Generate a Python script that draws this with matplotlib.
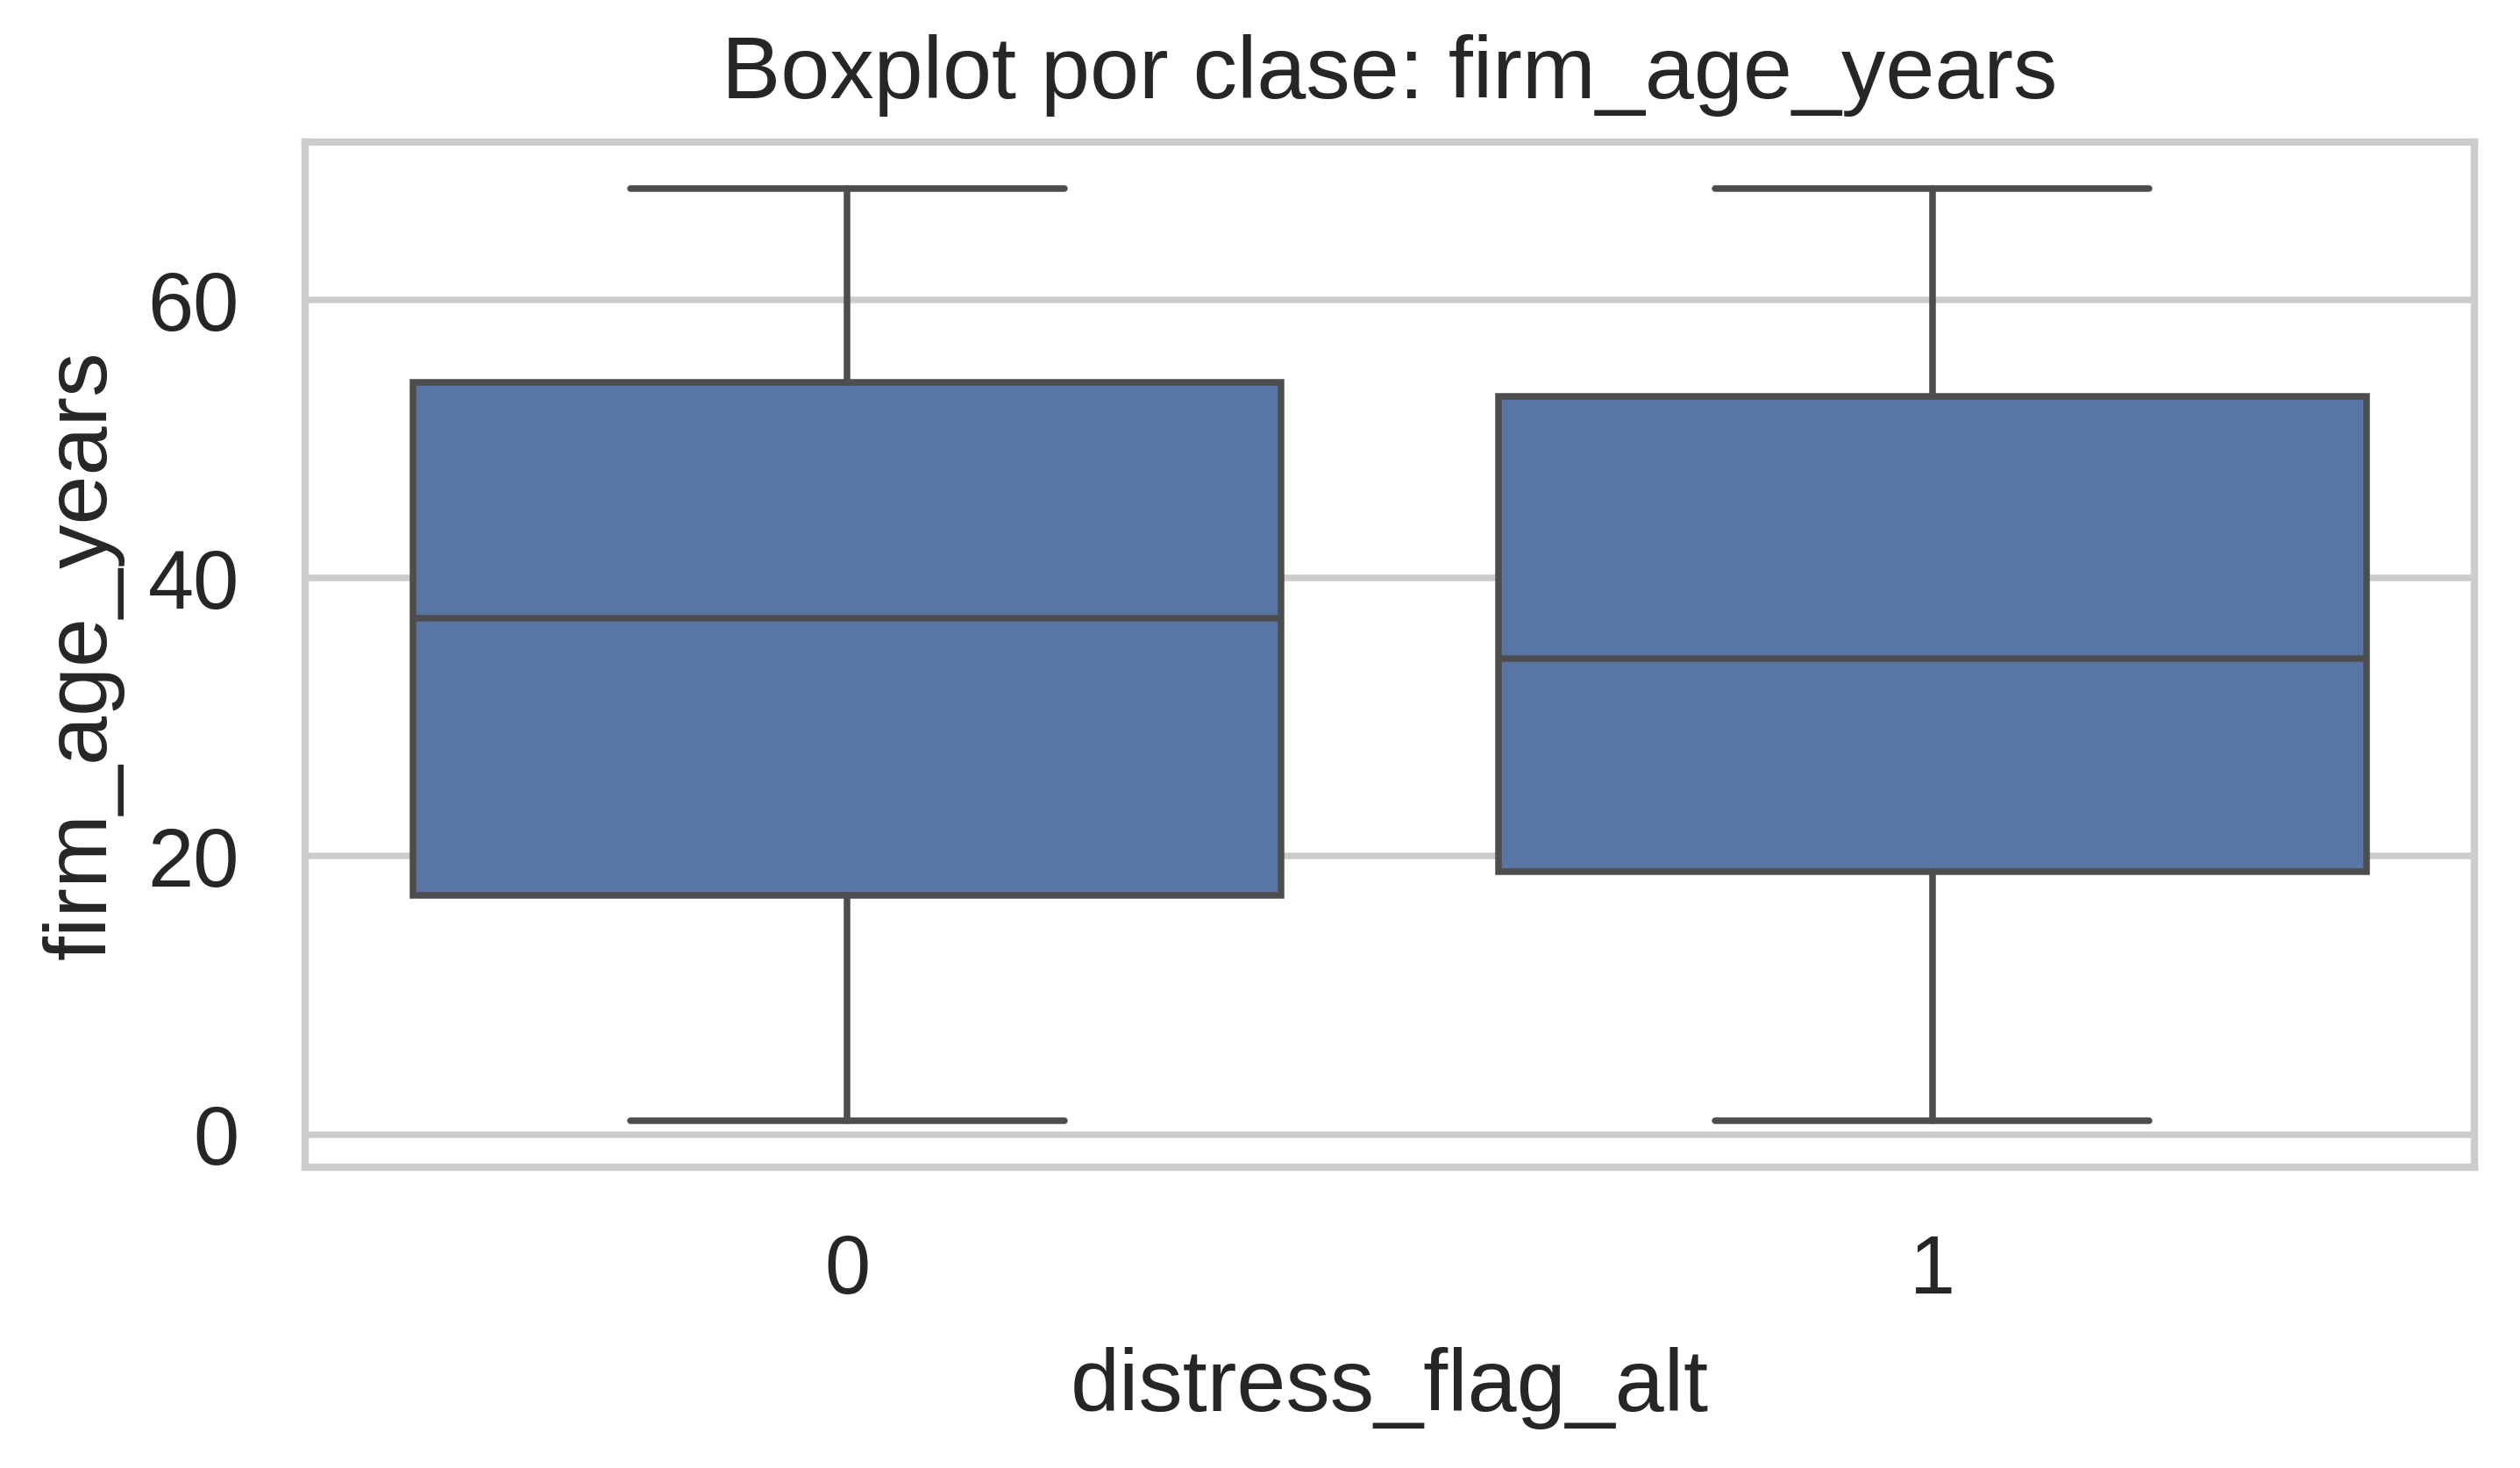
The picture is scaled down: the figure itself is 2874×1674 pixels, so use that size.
import matplotlib
matplotlib.use("Agg")
import matplotlib.pyplot as plt
import seaborn as sns

# box statistics per class
classes = ["0", "1"]
whislo = [1, 1]
q1 = [17.2, 18.9]
med = [37.1, 34.2]
q3 = [54.1, 53.1]
whishi = [68, 68]

sns.set_theme(style="whitegrid")
plt.rcParams['font.family'] = ['Liberation Sans', 'DejaVu Sans']

fig = plt.figure(figsize=(2874 / 300, 1674 / 300), dpi=300)
ax = fig.add_axes([0.121, 0.205, 0.861, 0.698])

stats = [dict(label=c, whislo=lo, q1=a, med=m, q3=b, whishi=hi, fliers=[])
         for c, lo, a, m, b, hi in zip(classes, whislo, q1, med, q3, whishi)]
line_color = "#4d4d4d"
lw = 1.8
ax.bxp(stats, positions=range(len(classes)), widths=0.8, patch_artist=True,
       boxprops=dict(facecolor="#5975a4", edgecolor=line_color, linewidth=lw),
       medianprops=dict(color=line_color, linewidth=lw),
       whiskerprops=dict(color=line_color, linewidth=lw),
       capprops=dict(color=line_color, linewidth=lw),
       capwidths=0.4)

ax.set_xlim(-0.5, len(classes) - 0.5)
ax.set_yticks([0, 20, 40, 60])
ax.grid(axis="x", visible=False)
ax.grid(axis="y", color="#cccccc", linewidth=1.8)
for s in ax.spines.values():
    s.set_color("#cccccc")
    s.set_linewidth(2.0)
ax.tick_params(labelsize=22.5, colors="#262626", pad=12)
ax.set_xlabel("distress_flag_alt", fontsize=24.2, color="#262626", labelpad=10)
ax.set_ylabel("firm_age_years", fontsize=24.2, color="#262626", labelpad=6.5)
ax.set_title("Boxplot por clase: firm_age_years", fontsize=24.2, color="#262626", pad=12)

fig.savefig("out.png", dpi=300)
